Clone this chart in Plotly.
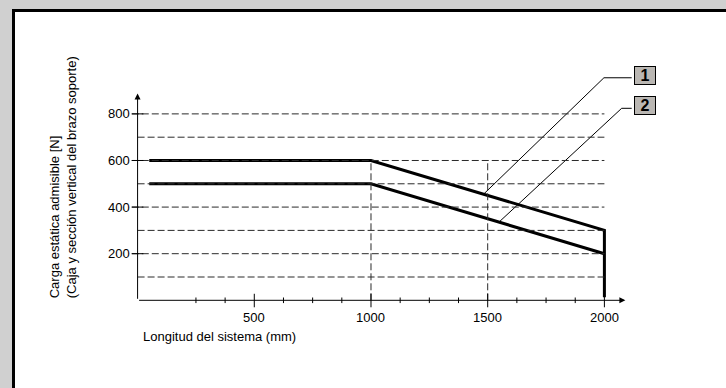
import plotly.graph_objects as go

# ---- data ----
length_1 = [50, 1000, 2000, 2000]
load_1 = [600, 600, 300, 13]
length_2 = [50, 1000, 2000]
load_2 = [500, 500, 200]

x_major_ticks = [500, 1000, 1500, 2000]
x_minor_ticks = [250, 375, 625, 750, 875, 1125, 1250, 1375, 1625, 1750, 1875]
y_major_ticks = [200, 400, 600, 800]
y_grid = [100, 200, 300, 400, 500, 600, 700, 800]
x_vert_grid = [1000, 1500]

labels = ["1", "2"]
leader_x = [[2117, 1998, 1484], [2117, 2074, 1551]]
leader_y = [[955, 955, 457], [824, 824, 338]]
label_x = [2172, 2172]
label_y = [965, 835]

y_title = "Carga estática admisible [N]<br>(Caja y sección vertical del brazo soporte)"
x_title = "Longitud del sistema (mm)"

FONT = "Liberation Sans, Arial, sans-serif"

fig = go.Figure()

shapes = []
# gray frame (left and top) and black border of the white panel
shapes.append(dict(type="rect", xref="paper", yref="paper", x0=0, x1=12 / 726, y0=0, y1=1,
                   fillcolor="#d0d0d0", line=dict(width=0), layer="below"))
shapes.append(dict(type="rect", xref="paper", yref="paper", x0=0, x1=1, y0=1 - 9 / 388, y1=1,
                   fillcolor="#d0d0d0", line=dict(width=0), layer="below"))
shapes.append(dict(type="rect", xref="paper", yref="paper", x0=12 / 726, x1=15 / 726, y0=0, y1=1 - 9 / 388,
                   fillcolor="black", line=dict(width=0), layer="below"))
shapes.append(dict(type="rect", xref="paper", yref="paper", x0=12 / 726, x1=1, y0=1 - 12 / 388, y1=1 - 9 / 388,
                   fillcolor="black", line=dict(width=0), layer="below"))

dash = "7px,3px"
for g in y_grid:
    x_start = -25 if g in y_major_ticks else 0
    shapes.append(dict(type="line", xref="x", yref="y", x0=x_start, x1=2000, y0=g, y1=g,
                       line=dict(color="#2a2a2a", width=1, dash=dash)))
for g in y_major_ticks:
    shapes.append(dict(type="line", xref="x", yref="y", x0=-25, x1=25, y0=g, y1=g,
                       line=dict(color="black", width=1)))
for g in x_vert_grid:
    shapes.append(dict(type="line", xref="x", yref="y", x0=g, x1=g, y0=0, y1=600,
                       line=dict(color="#2a2a2a", width=1, dash=dash)))
for t in x_major_ticks:
    shapes.append(dict(type="line", xref="x", yref="y", x0=t, x1=t, y0=-30, y1=28,
                       line=dict(color="black", width=1)))
for t in x_minor_ticks:
    shapes.append(dict(type="line", xref="x", yref="y", x0=t, x1=t, y0=-12, y1=12,
                       line=dict(color="black", width=1)))

fig.update_layout(shapes=shapes)

# data lines
fig.add_trace(go.Scatter(x=length_1, y=load_1, mode="lines",
                         line=dict(color="black", width=3), hoverinfo="skip"))
fig.add_trace(go.Scatter(x=length_2, y=load_2, mode="lines",
                         line=dict(color="black", width=3), hoverinfo="skip"))
# leaders
for lx, ly in zip(leader_x, leader_y):
    fig.add_trace(go.Scatter(x=lx, y=ly, mode="lines",
                             line=dict(color="black", width=1), hoverinfo="skip"))

ann = []
# axes with arrows
ann.append(dict(x=2090, y=0, ax=0, ay=0, xref="x", yref="y", axref="x", ayref="y",
                showarrow=True, arrowhead=2, arrowsize=1.2, arrowwidth=1, arrowcolor="black", text=""))
ann.append(dict(x=0, y=888, ax=0, ay=0, xref="x", yref="y", axref="x", ayref="y",
                showarrow=True, arrowhead=2, arrowsize=1.2, arrowwidth=1, arrowcolor="black", text=""))
# tick labels
for t in x_major_ticks:
    ann.append(dict(x=t, y=-75, xref="x", yref="y", text=str(t), showarrow=False,
                    font=dict(family=FONT, size=13, color="black"), xanchor="center", yanchor="middle"))
for t in y_major_ticks:
    ann.append(dict(x=-26, y=t, xref="x", yref="y", text=str(t), showarrow=False,
                    font=dict(family=FONT, size=13, color="black"), xanchor="right", yanchor="middle"))
# label boxes
for lab, lx, ly in zip(labels, label_x, label_y):
    ann.append(dict(x=lx, y=ly, xref="x", yref="y", text="<b>%s</b>" % lab, showarrow=False,
                    font=dict(family=FONT, size=16, color="black"),
                    bgcolor="#bab7b3", bordercolor="black", borderwidth=1, borderpad=0,
                    width=20, height=17, xanchor="center", yanchor="middle"))
# axis titles
ann.append(dict(x=63 / 726, y=0, xref="paper", yref="y", text=y_title, showarrow=False,
                textangle=-90, font=dict(family=FONT, size=13, color="black"),
                xanchor="center", yanchor="bottom", align="left"))
ann.append(dict(x=141 / 726, y=1 - 336 / 388, xref="paper", yref="paper", text=x_title,
                showarrow=False, font=dict(family=FONT, size=13, color="black"),
                xanchor="left", yanchor="middle"))

fig.update_layout(
    annotations=ann,
    width=726, height=388,
    margin=dict(l=0, r=0, t=0, b=0),
    paper_bgcolor="white",
    plot_bgcolor="rgba(0,0,0,0)",
    showlegend=False,
    xaxis=dict(range=[-589.5, 2521], visible=False, fixedrange=True),
    yaxis=dict(range=[-376.4, 1288.8], visible=False, fixedrange=True),
)

fig.write_html("out.html", config={"displayModeBar": False},
               post_script="document.body.style.margin='0';document.documentElement.style.overflow='hidden';document.body.style.overflow='hidden';")
